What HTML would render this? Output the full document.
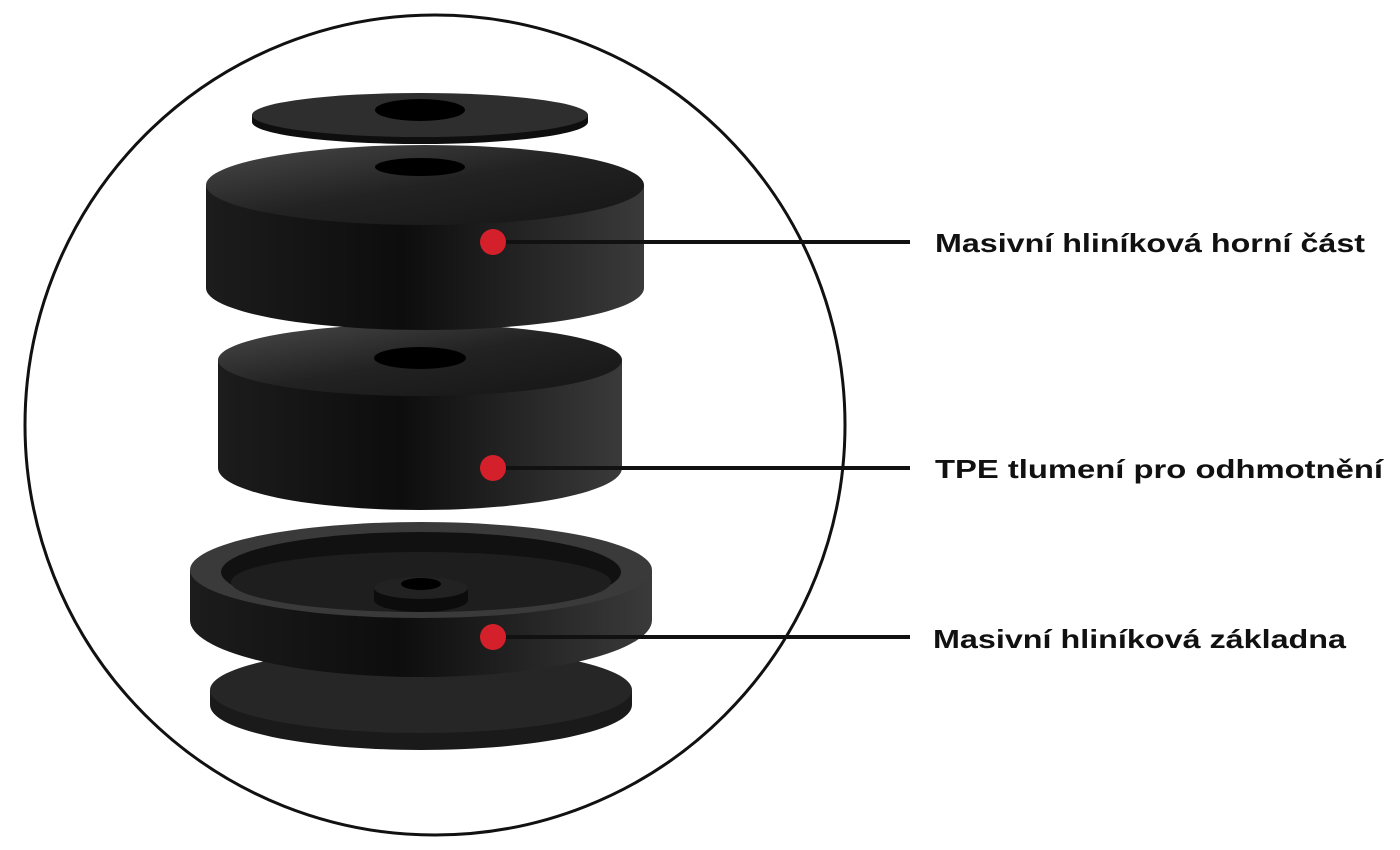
<!DOCTYPE html>
<html><head><meta charset="utf-8"><style>
html,body{margin:0;padding:0;background:#fff;}
svg{display:block}
text{font-family:"Liberation Sans",sans-serif;font-weight:bold;font-size:26px;fill:#111}
</style></head><body>
<svg width="1400" height="850" viewBox="0 0 1400 850">
<defs>
<linearGradient id="side" x1="0" x2="1" y1="0" y2="0">
<stop offset="0" stop-color="#1c1c1c"/><stop offset="0.45" stop-color="#0d0d0d"/><stop offset="0.8" stop-color="#2a2a2a"/><stop offset="1" stop-color="#3a3a3a"/>
</linearGradient>
<linearGradient id="top" x1="0" x2="1" y1="0" y2="1">
<stop offset="0" stop-color="#4a4a4a"/><stop offset="0.5" stop-color="#222"/><stop offset="1" stop-color="#151515"/>
</linearGradient>
</defs>
<circle cx="435" cy="425" r="410" fill="none" stroke="#111" stroke-width="3"/>

<!-- bottom pad -->
<path d="M210 690 L210 705 A211 45 0 0 0 632 705 L632 690 Z" fill="#1a1a1a"/>
<ellipse cx="421" cy="690" rx="211" ry="43" fill="#262626"/>
<!-- base -->
<path d="M190 570 L190 620 A231 57 0 0 0 652 620 L652 570 Z" fill="url(#side)"/>
<ellipse cx="421" cy="570" rx="231" ry="48" fill="#3a3a3a"/>
<ellipse cx="421" cy="572" rx="200" ry="40" fill="#111"/>
<ellipse cx="421" cy="582" rx="190" ry="30" fill="#1e1e1e"/>
<path d="M374 588 L374 600 A47 12 0 0 0 468 600 L468 588 Z" fill="#0c0c0c"/>
<ellipse cx="421" cy="588" rx="47" ry="11" fill="#222"/>
<ellipse cx="421" cy="584" rx="20" ry="6" fill="#000"/>

<!-- TPE cylinder -->
<path d="M218 360 L218 468 A202 42 0 0 0 622 468 L622 360 Z" fill="url(#side)"/>
<ellipse cx="420" cy="360" rx="202" ry="36" fill="url(#top)"/>
<ellipse cx="420" cy="358" rx="46" ry="11" fill="#000"/>

<!-- upper cylinder -->
<path d="M206 185 L206 288 A219 42 0 0 0 644 288 L644 185 Z" fill="url(#side)"/>
<ellipse cx="425" cy="185" rx="219" ry="40" fill="url(#top)"/>
<ellipse cx="420" cy="167" rx="45" ry="9" fill="#000"/>

<!-- washer -->
<path d="M252 115 L252 122 A168 22 0 0 0 588 122 L588 115 Z" fill="#0e0e0e"/>
<ellipse cx="420" cy="115" rx="168" ry="22" fill="#2e2e2e"/>
<ellipse cx="420" cy="110" rx="45" ry="11" fill="#000"/>

<!-- callouts -->
<line x1="493" y1="242" x2="910" y2="242" stroke="#111" stroke-width="4"/>
<line x1="493" y1="468" x2="910" y2="468" stroke="#111" stroke-width="4"/>
<line x1="493" y1="637" x2="910" y2="637" stroke="#111" stroke-width="4"/>
<circle cx="493" cy="242" r="13" fill="#d3202a"/>
<circle cx="493" cy="468" r="13" fill="#d3202a"/>
<circle cx="493" cy="637" r="13" fill="#d3202a"/>

<text x="935" y="252" textLength="430" lengthAdjust="spacingAndGlyphs">Masivní hliníková horní část</text>
<text x="935" y="478" textLength="448" lengthAdjust="spacingAndGlyphs">TPE tlumení pro odhmotnění</text>
<text x="933" y="648" textLength="413" lengthAdjust="spacingAndGlyphs">Masivní hliníková základna</text>
</svg>
</body></html>
